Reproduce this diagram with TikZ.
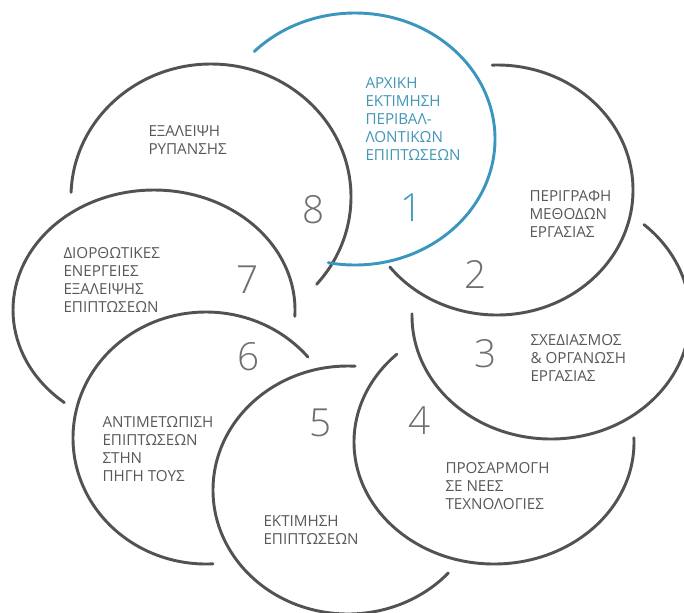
\documentclass[tikz,border=0pt]{standalone}
\usepackage{fontspec}
\setmainfont{Open Sans}
\IfFontExistsTF{Open Sans Light}{\newfontfamily\numfont{Open Sans Light}}{\newfontfamily\numfont{Open Sans}}

\definecolor{arcGray}{RGB}{82,82,82}
\definecolor{arcBlue}{RGB}{58,150,190}
\definecolor{txtGray}{RGB}{88,88,88}
\definecolor{txtBlue}{RGB}{66,150,182}
\definecolor{numGray}{RGB}{110,110,110}

\tikzset{every picture/.style={line width=0.75pt}}
\tikzset{
  ring/.style={draw=arcGray, line width=2.2pt, line cap=round},
  lbl/.style={anchor=north west, inner sep=0.75pt, align=left, text=txtGray,
    font=\fontsize{11.4}{13.6}\selectfont},
  num/.style={inner sep=0pt, text=numGray, font=\numfont\fontsize{29}{30}\selectfont}
}

\begin{document}
\begin{tikzpicture}[x=0.75pt,y=0.75pt,yscale=-1,xscale=1]
\useasboundingbox (0,0) rectangle (684,612);

%Shape: Arc 8
\draw [ring] (211,197) ++(182:140 and 133) arc [start angle=182, end angle=401, x radius=140, y radius=133];
%Shape: Arc 7
\draw [ring] (154,310) ++(129.5:141 and 120) arc [start angle=129.5, end angle=363, x radius=141, y radius=120];
%Shape: Arc 6
\draw [ring] (206,438) ++(-40:133 and 126) arc [start angle=-40, end angle=-273, x radius=133, y radius=126];
%Shape: Arc 5
\draw [ring] (348,490) ++(-87:135 and 124) arc [start angle=-87, end angle=-318, x radius=135, y radius=124];
%Shape: Arc 4
\draw [ring] (494,442) ++(-2:140 and 122) arc [start angle=-2, end angle=226, x radius=140, y radius=122];
%Shape: Arc 3
\draw [ring] (551,316) ++(-48:139 and 123) arc [start angle=-48, end angle=181, x radius=139, y radius=123];
%Shape: Arc 2
\draw [ring] (497,190) ++(268:136 and 125) arc [start angle=268, end angle=502, x radius=136, y radius=125];
%Shape: Arc 1
\draw [ring, draw=arcBlue] (355,139) ++(224:140 and 126) arc [start angle=224, end angle=461, x radius=140, y radius=126];

% Text Node
\draw (364,76) node (txt1) [lbl, text=txtBlue] {ΑΡΧΙΚΗ\\ΕΚΤΙΜΗΣΗ\\ΠΕΡΙΒΑΛ-\\ΛΟΝΤΙΚΩΝ\\ΕΠΙΠΤΩΣΕΩΝ};
% Text Node
\draw (528,189) node (txt2) [lbl] {ΠΕΡΙΓΡΑΦΗ\\ΜΕΘΟΔΩΝ\\ΕΡΓΑΣΙΑΣ};
% Text Node
\draw (529,333) node (txt3) [lbl] {ΣΧΕΔΙΑΣΜΟΣ\\\& ΟΡΓΑΝΩΣΗ\\ΕΡΓΑΣΙΑΣ};
% Text Node
\draw (444,461) node (txt4) [lbl] {ΠΡΟΣΑΡΜΟΓΗ\\ΣΕ ΝΕΕΣ\\ΤΕΧΝΟΛΟΓΙΕΣ};
% Text Node
\draw (262,514) node (txt5) [lbl] {ΕΚΤΙΜΗΣΗ\\ΕΠΙΠΤΩΣΕΩΝ};
% Text Node
\draw (101,415) node (txt6) [lbl] {ΑΝΤΙΜΕΤΩΠΙΣΗ\\ΕΠΙΠΤΩΣΕΩΝ\\ΣΤΗΝ\\ΠΗΓΗ ΤΟΥΣ};
% Text Node
\draw (62,246) node (txt7) [lbl] {ΔΙΟΡΘΩΤΙΚΕΣ\\ΕΝΕΡΓΕΙΕΣ\\ΕΞΑΛΕΙΨΗΣ\\ΕΠΙΠΤΩΣΕΩΝ};
% Text Node
\draw (147,124) node (txt8) [lbl] {ΕΞΑΛΕΙΨΗ\\ΡΥΠΑΝΣΗΣ};

% Numbers
\draw (412,208) node (n1) [num, text=arcBlue] {1};
\draw (476,274) node (n2) [num] {2};
\draw (486,354) node (n3) [num] {3};
\draw (420,421) node (n4) [num] {4};
\draw (321,423) node (n5) [num] {5};
\draw (249,357) node (n6) [num] {6};
\draw (248,280) node (n7) [num] {7};
\draw (314,210) node (n8) [num] {8};
\end{tikzpicture}
\end{document}
